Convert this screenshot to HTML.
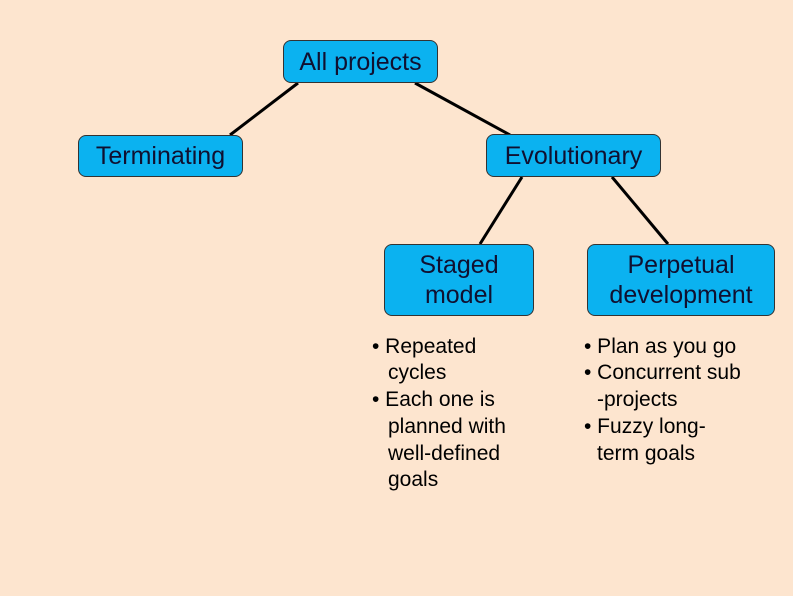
<!DOCTYPE html>
<html><head><style>
body{margin:0;width:793px;height:596px;background:#fde5cf;position:relative;overflow:hidden;font-family:"Liberation Sans",sans-serif}
.b{position:absolute;background:#0bb2f0;border:1px solid #333;border-radius:8px;box-sizing:border-box;color:#101030;font-size:25px;text-align:center;display:flex;align-items:center;justify-content:center;line-height:30px}
.t{position:absolute;font-size:21px;color:#000;white-space:nowrap;line-height:21px}
</style></head><body>
<svg width="793" height="596" style="position:absolute;left:0;top:0">
<g stroke="#000" stroke-width="3">
<line x1="298" y1="83" x2="230" y2="135"/>
<line x1="415" y1="83" x2="510" y2="135"/>
<line x1="522" y1="177" x2="480" y2="244"/>
<line x1="612" y1="177" x2="668" y2="244"/>
</g></svg>
<div class="b" style="left:283px;top:40px;width:155px;height:43px">All projects</div>
<div class="b" style="left:78px;top:135px;width:165px;height:42px">Terminating</div>
<div class="b" style="left:486px;top:134px;width:175px;height:43px">Evolutionary</div>
<div class="b" style="left:384px;top:244px;width:150px;height:72px">Staged<br>model</div>
<div class="b" style="left:587px;top:244px;width:188px;height:72px">Perpetual<br>development</div>
<div class="t" style="left:372px;top:336px">• Repeated</div>
<div class="t" style="left:388px;top:362px">cycles</div>
<div class="t" style="left:372px;top:389px">• Each one is</div>
<div class="t" style="left:388px;top:416px">planned with</div>
<div class="t" style="left:388px;top:443px">well-defined</div>
<div class="t" style="left:388px;top:469px">goals</div>
<div class="t" style="left:584px;top:336px">• Plan as you go</div>
<div class="t" style="left:584px;top:362px">• Concurrent sub</div>
<div class="t" style="left:597px;top:389px">-projects</div>
<div class="t" style="left:584px;top:416px">• Fuzzy long-</div>
<div class="t" style="left:597px;top:443px">term goals</div>
</body></html>
